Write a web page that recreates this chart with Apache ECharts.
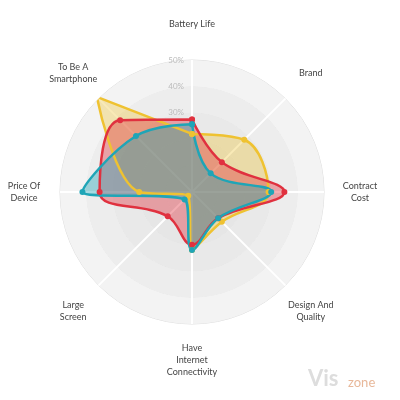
<!DOCTYPE html>
<html><head><meta charset="utf-8">
<script src="https://cdn.jsdelivr.net/npm/echarts@6/dist/echarts.min.js"></script>
<style>html,body{margin:0;background:#fff}#main{width:400px;height:400px}</style>
</head><body><div id="main"></div>
<script>
var categories = ['Battery Life','Brand','Contract\nCost','Design And\nQuality','Have\nInternet\nConnectivity','Large\nScreen','Price Of\nDevice','To Be A\nSmartphone']
var yellowVals = [22, 28, 29, 16, 22, 2, 20, 51]
var redVals = [27.5, 16, 35, 14, 20, 13, 35, 38.5]
var tealVals = [25.7, 10, 30, 14, 22, 4, 41.5, 30]
var ringLabels = {30:'30%',40:'40%',50:'50%'}

var cx = 192, cy = 192, R = 132, labelR = 168

// polar points [radius, angle], loop closed
function toPoints(vals){
    var pts = []
    for(var i=0;i<vals.length;i++){ pts.push([vals[i], i]) }
    pts.push([vals[0], vals.length])
    return pts
}
function mkSeries(name, vals, color, op){
    return {
        name:name, type:'line', coordinateSystem:'polar', smooth:0.4,
        symbol:'circle', symbolSize:6, data:toPoints(vals),
        lineStyle:{color:color,width:2.5}, itemStyle:{color:color},
        areaStyle:{color:color,opacity:op}
    }
}
// centred category names around the circle
var graphics = []
for(var i=0;i<categories.length;i++){
    var a = Math.PI/2 - i*Math.PI*2/categories.length
    graphics.push({type:'text', x:cx+labelR*Math.cos(a), y:cy-labelR*Math.sin(a),
        style:{text:categories[i],fontSize:9,fontFamily:'Lato',fill:'#444',lineHeight:12,
            align:'center',verticalAlign:'middle'}})
}
graphics.push({type:'text',left:308,top:368,style:{text:'Vis',fontSize:22,fontWeight:'bold',fill:'#ddd',fontFamily:'Lato'}})
graphics.push({type:'text',left:348,top:376,style:{text:'zone',fontSize:13,fill:'#e8b89a',fontFamily:'Lato'}})

var myChart = echarts.init(document.getElementById('main'))
var option = {
    animation:false,
    polar:{center:[cx,cy],radius:R},
    angleAxis:{
        type:'value', min:0, max:8, interval:1, startAngle:90, clockwise:true,
        axisLine:{show:false}, axisTick:{show:false}, axisLabel:{show:false},
        splitLine:{show:true,lineStyle:{color:'#fff',width:2}}
    },
    radiusAxis:{
        min:0, max:50, interval:10,
        axisLine:{show:false}, axisTick:{show:false},
        axisLabel:{color:'#bbb',fontSize:8,fontFamily:'Lato',formatter:function(v){return ringLabels[v]||''}},
        splitLine:{show:true,lineStyle:{color:'#ddd',width:1}},
        splitArea:{show:true,areaStyle:{color:['#e6e6e6','#e6e6e6','#e9e9e9','#ededed','#f3f3f3']}}
    },
    series:[
        mkSeries('a', yellowVals, '#efc231', 0.35),
        mkSeries('b', redVals, '#e0313f', 0.4),
        mkSeries('c', tealVals, '#1fa5b7', 0.4)
    ],
    graphic:graphics
}
myChart.setOption(option)
</script></body></html>
